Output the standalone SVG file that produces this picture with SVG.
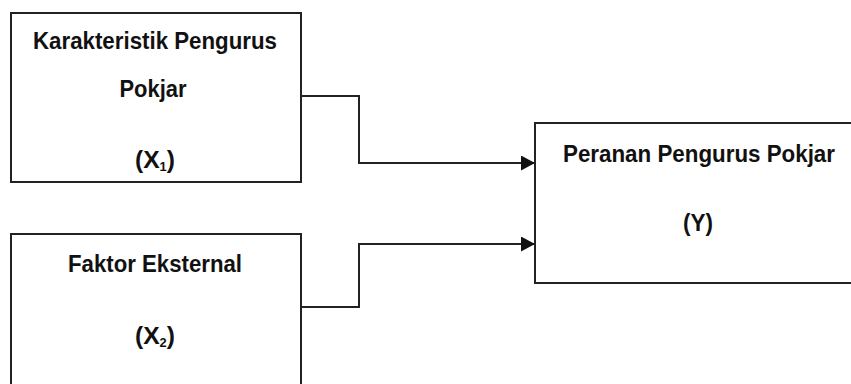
<svg xmlns="http://www.w3.org/2000/svg" width="851" height="384" viewBox="0 0 851 384">
<style>
.box{fill:#fff;stroke:#222;stroke-width:2}
.t{font-family:"Liberation Sans Narrow","Liberation Sans",Arial,sans-serif;font-weight:bold;font-size:23px;fill:#111;text-anchor:middle}
.sub{font-size:12px}
.c{fill:none;stroke:#222;stroke-width:2}
</style>
<defs>
<marker id="arr" markerUnits="userSpaceOnUse" markerWidth="14" markerHeight="16" refX="13" refY="7.5" orient="auto">
<path d="M0,0 L14,7.5 L0,15 Z" fill="#111"/>
</marker>
</defs>
<rect width="851" height="384" fill="#fff"/>
<g id="connectors">
<path class="c" d="M301,96 H359 V163 H534" marker-end="url(#arr)"/>
<path class="c" d="M301,307 H359 V244 H534" marker-end="url(#arr)"/>
</g>
<g id="x1">
<rect class="box" x="11" y="13" width="290" height="169"/>
<text class="t" x="155" y="49" textLength="244" lengthAdjust="spacingAndGlyphs">Karakteristik Pengurus</text>
<text class="t" x="153" y="97" textLength="67" lengthAdjust="spacingAndGlyphs">Pokjar</text>
<text class="t" x="155" y="168" textLength="40" lengthAdjust="spacingAndGlyphs">(X<tspan class="sub" dy="3">1</tspan><tspan dy="-3">)</tspan></text>
</g>
<g id="x2">
<rect class="box" x="11" y="234" width="290" height="160"/>
<text class="t" x="155" y="272" textLength="174" lengthAdjust="spacingAndGlyphs">Faktor Eksternal</text>
<text class="t" x="155" y="344" textLength="40" lengthAdjust="spacingAndGlyphs">(X<tspan class="sub" dy="3">2</tspan><tspan dy="-3">)</tspan></text>
</g>
<g id="y">
<rect class="box" x="535" y="123" width="330" height="160"/>
<text class="t" x="699" y="162" textLength="272" lengthAdjust="spacingAndGlyphs">Peranan Pengurus Pokjar</text>
<text class="t" x="698" y="231" textLength="30" lengthAdjust="spacingAndGlyphs">(Y)</text>
</g>
</svg>
